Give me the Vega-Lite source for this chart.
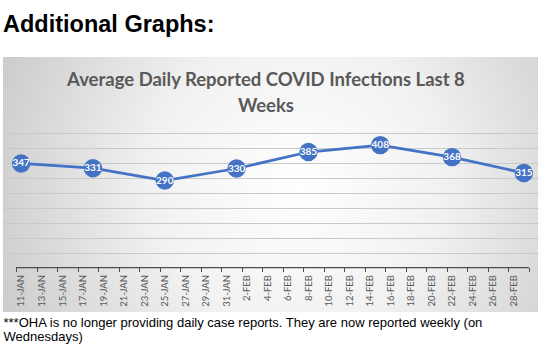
{
  "$schema": "https://vega.github.io/schema/vega-lite/v6.json",
  "background": "#ffffff",
  "padding": {"left": 3, "top": 13, "right": 2, "bottom": 4},
  "title": {
    "text": "Additional Graphs:",
    "anchor": "start",
    "font": "Liberation Sans",
    "fontSize": 23.5,
    "fontWeight": "bold",
    "color": "#000000",
    "baseline": "alphabetic",
    "offset": 1.5
  },
  "data": {
    "values": [
      {"date": "2023-01-11", "value": 347},
      {"date": "2023-01-18", "value": 331},
      {"date": "2023-01-25", "value": 290},
      {"date": "2023-02-01", "value": 330},
      {"date": "2023-02-08", "value": 385},
      {"date": "2023-02-15", "value": 408},
      {"date": "2023-02-22", "value": 368},
      {"date": "2023-03-01", "value": 315}
    ]
  },
  "vconcat": [
    {
      "width": 535,
      "height": 255,
      "view": {
        "fill": {
          "gradient": "radial",
          "x1": 0.55, "y1": 0.5, "r1": 0,
          "x2": 0.55, "y2": 0.5, "r2": 0.62,
          "stops": [
            {"offset": 0, "color": "#ffffff"},
            {"offset": 0.45, "color": "#f1f1f1"},
            {"offset": 1, "color": "#c9c9c9"}
          ]
        },
        "stroke": null
      },
      "layer": [
        {
          "mark": {"type": "line", "color": "#4472C4", "strokeWidth": 2.75},
          "encoding": {
            "x": {
              "field": "date",
              "type": "temporal",
              "scale": {
                "domain": [
                  {"year": 2023, "month": "jan", "date": 9, "hours": 5, "minutes": 36, "utc": true},
                  {"year": 2023, "month": "mar", "date": 2, "hours": 9, "minutes": 3, "utc": true}
                ],
                "nice": false
              },
              "axis": {
                "orient": "bottom",
                "offset": -44.5,
                "domain": false,
                "grid": false,
                "ticks": true,
                "tickSize": 4,
                "tickColor": "#4d4d4d",
                "tickWidth": 1,
                "tickCount": 100,
                "values": [1673352000000, 1673524800000, 1673697600000, 1673870400000, 1674043200000, 1674216000000, 1674388800000, 1674561600000, 1674734400000, 1674907200000, 1675080000000, 1675252800000, 1675425600000, 1675598400000, 1675771200000, 1675944000000, 1676116800000, 1676289600000, 1676462400000, 1676635200000, 1676808000000, 1676980800000, 1677153600000, 1677326400000, 1677499200000, 1677672000000],
                "labelExpr": "time(datum.value) >= 1677600000000 ? '' : upper(utcFormat(time(datum.value) + 43200000, '%-d-%b'))",
                "labelAngle": -90,
                "labelAlign": "right",
                "labelBaseline": "middle",
                "labelFont": "Lato",
                "labelFontSize": 9.5,
                "labelColor": "#595959",
                "labelPadding": 3,
                "labelOffset": 5,
                "labelOverlap": false,
                "labelFlush": false,
                "labelBound": false,
                "title": ["***OHA is no longer providing daily case reports.  They are now reported weekly (on", "Wednesdays)"],
                "titleFont": "Liberation Sans",
                "titleFontSize": 13,
                "titleFontWeight": "normal",
                "titleColor": "#000000",
                "titleAnchor": "start",
                "titleAlign": "left",
                "titleBaseline": "top",
                "titleLineHeight": 14,
                "titlePadding": 10
              }
            },
            "y": {
              "field": "value",
              "type": "quantitative",
              "scale": {"domain": [-148.3, 701.7], "nice": false, "zero": false},
              "axis": {
                "values": [50, 100, 150, 200, 250, 300, 350, 400, 450],
                "tickCount": 100,
                "grid": true,
                "gridColor": "#c9c9c9",
                "gridWidth": 1,
                "labels": false,
                "ticks": false,
                "domain": false,
                "title": null
              }
            }
          }
        },
        {
          "transform": [{"aggregate": [{"op": "count", "as": "n"}]}],
          "mark": {"type": "rule", "color": "#4d4d4d", "strokeWidth": 1.25},
          "encoding": {
            "x": {"datum": {"year": 2023, "month": "jan", "date": 10, "hours": 12, "utc": true}, "type": "temporal"},
            "x2": {"datum": {"year": 2023, "month": "mar", "date": 1, "hours": 12, "utc": true}},
            "y": {"datum": 0, "type": "quantitative"}
          }
        },
        {
          "mark": {"type": "circle", "color": "#4472C4", "size": 340, "opacity": 1},
          "encoding": {
            "x": {"field": "date", "type": "temporal"},
            "y": {"field": "value", "type": "quantitative"}
          }
        },
        {
          "mark": {"type": "text", "color": "#ffffff", "font": "Lato", "fontSize": 10, "fontWeight": "bold", "align": "center", "baseline": "middle"},
          "encoding": {
            "x": {"field": "date", "type": "temporal"},
            "y": {"field": "value", "type": "quantitative"},
            "text": {"field": "value", "type": "quantitative"}
          }
        },
        {
          "transform": [{"aggregate": [{"op": "count", "as": "n"}]}],
          "mark": {"type": "text", "color": "#595959", "font": "Lato", "fontSize": 18.5, "fontWeight": "bold", "align": "center", "baseline": "top", "lineHeight": 26},
          "encoding": {
            "x": {"datum": {"year": 2023, "month": "feb", "date": 3, "hours": 20, "minutes": 40, "utc": true}, "type": "temporal"},
            "y": {"datum": 655, "type": "quantitative"},
            "text": {"value": ["Average Daily Reported COVID Infections Last 8", "Weeks"]}
          }
        }
      ]
    }
  ],
  "config": {"concat": {"spacing": 0}, "view": {"stroke": null}, "axis": {"labelOverlap": false}}
}
